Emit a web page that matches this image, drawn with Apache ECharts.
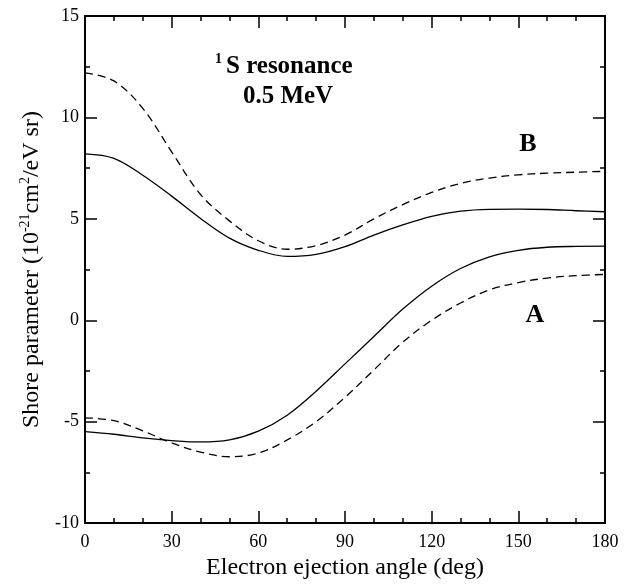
<!DOCTYPE html>
<html>
<head>
<meta charset="utf-8">
<script src="https://cdn.jsdelivr.net/npm/echarts@6/dist/echarts.min.js"></script>
<style>
  html, body { margin: 0; padding: 0; background: #fff; }
  #main { width: 635px; height: 585px; }
</style>
</head>
<body>
<div id="main"></div>
<script>
// ejection angles (deg)
const angles = [0, 10, 20, 30, 40, 50, 60, 70, 80, 90, 100, 110, 120, 130, 140, 150, 160, 170, 180]
// curve B
const solidB = [8.2, 7.98, 7.15, 6.12, 5.02, 4.05, 3.45, 3.15, 3.25, 3.63, 4.2, 4.7, 5.12, 5.38, 5.47, 5.48, 5.46, 5.4, 5.35]
const dashedB = [12.2, 11.8, 10.45, 8.3, 6.2, 4.9, 3.92, 3.5, 3.68, 4.2, 5.0, 5.7, 6.3, 6.75, 7.01, 7.17, 7.25, 7.3, 7.34]
// curve A
const solidA = [-5.49, -5.62, -5.8, -5.93, -6.0, -5.9, -5.47, -4.68, -3.5, -2.15, -0.8, 0.55, 1.68, 2.55, 3.13, 3.45, 3.6, 3.64, 3.65]
const dashedA = [-4.81, -4.95, -5.45, -6.05, -6.5, -6.73, -6.55, -5.9, -5.0, -3.8, -2.45, -1.08, 0.0, 0.85, 1.5, 1.86, 2.08, 2.2, 2.26]

const xTicks = { min: 0, max: 180, interval: 30 }
const yTicks = { min: -10, max: 15, interval: 5 }

const font = 'Liberation Serif, Times New Roman, serif'

function pairs(ys) {
  return angles.map((a, i) => [a, ys[i]])
}

function axisBase(extra) {
  return Object.assign({
    type: 'value',
    axisLine: { show: true, onZero: false, lineStyle: { color: '#000', width: 2 } },
    axisTick: { show: true, inside: true, length: 12, lineStyle: { color: '#000', width: 1.5 } },
    minorTick: { show: true, splitNumber: 2, length: 5, lineStyle: { color: '#000', width: 1.5 } },
    splitLine: { show: false },
    minorSplitLine: { show: false },
    axisLabel: { color: '#000', fontFamily: font, fontSize: 18 }
  }, extra)
}

let chart = echarts.init(document.getElementById('main'))

let option = {
  backgroundColor: '#fff',
  animation: false,
  grid: { left: 85, right: 30, top: 16, bottom: 56, containLabel: false },
  xAxis: [
    axisBase(Object.assign({}, xTicks, {
      position: 'bottom',
      minorTick: { show: true, splitNumber: 3, length: 5, lineStyle: { color: '#000', width: 1.5 } },
      axisLabel: { color: '#000', fontFamily: font, fontSize: 18, margin: 10 },
      name: 'Electron ejection angle (deg)',
      nameLocation: 'middle',
      nameGap: 30,
      nameTextStyle: { color: '#000', fontFamily: font, fontSize: 24 }
    })),
    axisBase(Object.assign({}, xTicks, {
      position: 'top',
      minorTick: { show: true, splitNumber: 3, length: 5, lineStyle: { color: '#000', width: 1.5 } },
      axisLabel: { show: false }
    }))
  ],
  yAxis: [
    axisBase(Object.assign({}, yTicks, {
      position: 'left',
      axisLabel: { color: '#000', fontFamily: font, fontSize: 18, margin: 6 },
      name: '{n|Shore parameter (10}{s|-21}{n|cm}{s|2}{n|/eV sr)}',
      nameLocation: 'middle',
      nameRotate: 90,
      nameGap: 34,
      nameTextStyle: {
        color: '#000', fontFamily: font, fontSize: 24,
        rich: {
          n: { fontFamily: font, fontSize: 24, color: '#000', lineHeight: 28 },
          s: { fontFamily: font, fontSize: 14, color: '#000', verticalAlign: 'top', lineHeight: 28 }
        }
      }
    })),
    axisBase(Object.assign({}, yTicks, {
      position: 'right',
      axisLabel: { show: false }
    }))
  ],
  graphic: [
    { type: 'text', left: 215, top: 52, style: { text: '1', fontFamily: font, fontSize: 14, fontWeight: 'bold', fill: '#000' } },
    { type: 'text', x: 226, y: 67, style: { text: 'S resonance', fontFamily: font, fontSize: 25, fontWeight: 'bold', fill: '#000', align: 'left', verticalAlign: 'middle' } },
    { type: 'text', x: 288, y: 97, style: { text: '0.5 MeV', fontFamily: font, fontSize: 25, fontWeight: 'bold', fill: '#000', align: 'center', verticalAlign: 'middle' } },
    { type: 'text', x: 528, y: 144, style: { text: 'B', fontFamily: font, fontSize: 26, fontWeight: 'bold', fill: '#000', align: 'center', verticalAlign: 'middle' } },
    { type: 'text', x: 535, y: 315, style: { text: 'A', fontFamily: font, fontSize: 26, fontWeight: 'bold', fill: '#000', align: 'center', verticalAlign: 'middle' } }
  ],
  series: [
    { name: 'B solid', data: pairs(solidB) },
    { name: 'B dashed', data: pairs(dashedB), dashed: true },
    { name: 'A solid', data: pairs(solidA) },
    { name: 'A dashed', data: pairs(dashedA), dashed: true }
  ].map(s => ({
    name: s.name,
    type: 'line',
    data: s.data,
    smooth: 0.35,
    showSymbol: false,
    symbol: 'none',
    silent: true,
    lineStyle: { color: '#000', width: 1.3, type: s.dashed ? [8, 5] : 'solid' }
  }))
}

chart.setOption(option)
</script>
</body>
</html>
